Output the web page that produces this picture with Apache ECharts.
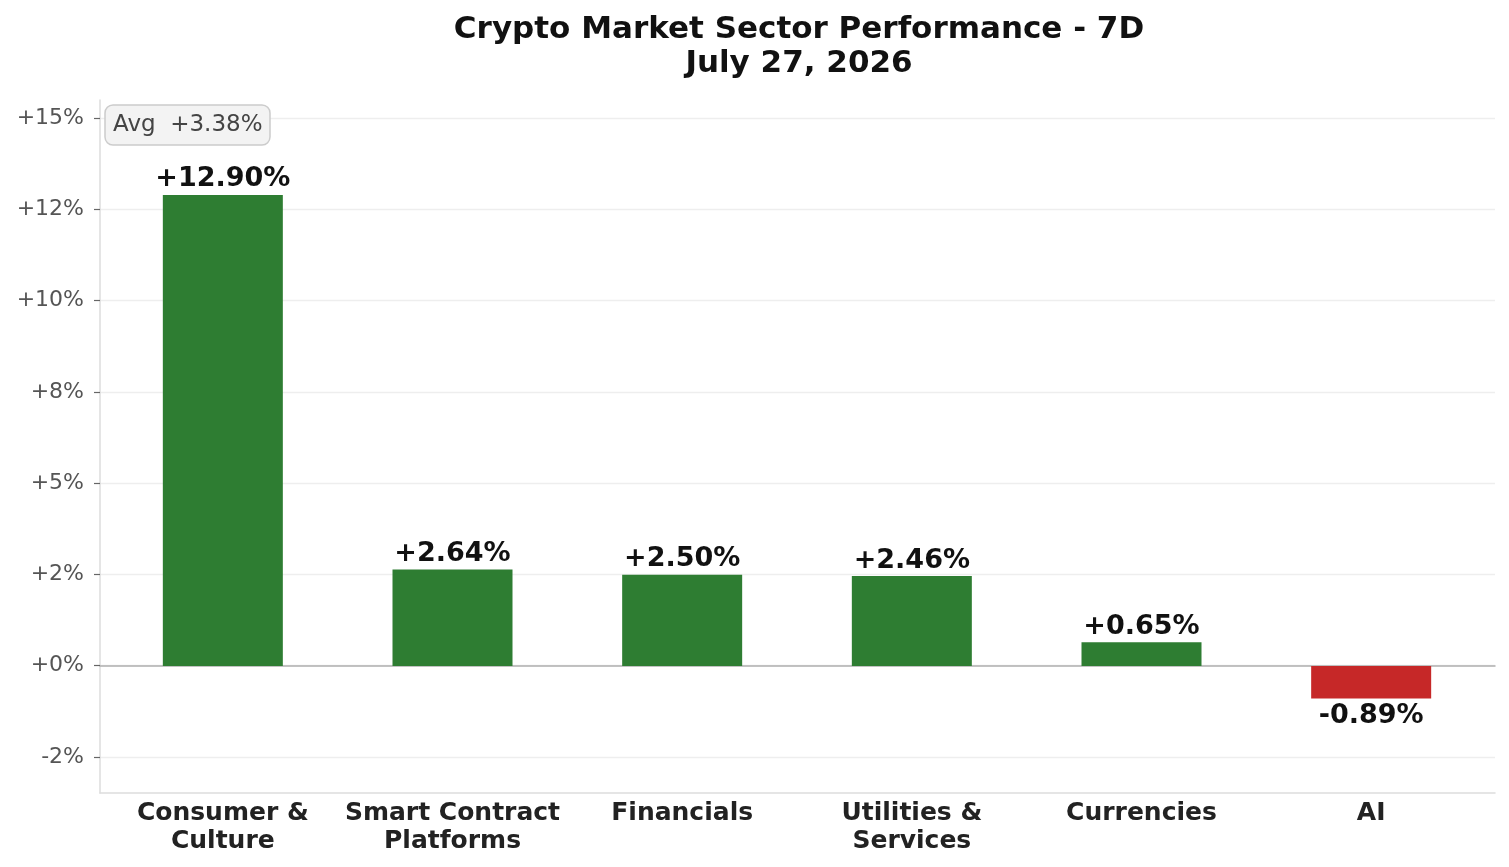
<!DOCTYPE html>
<html lang="en">
<head>
    <meta charset="UTF-8">
    <title>Crypto Market Sector Performance</title>
    <script src="https://cdn.jsdelivr.net/npm/echarts@6/dist/echarts.min.js"></script>
    <style>
        html, body { margin: 0; padding: 0; background: #fff; }
    </style>
</head>
<body>
<div id="main" style="width: 1509px;height:867px;"></div>
<script type="text/javascript">
    // data
    var sectors = ['Consumer &\nCulture', 'Smart Contract\nPlatforms', 'Financials', 'Utilities &\nServices', 'Currencies', 'AI'];
    var changes = [12.90, 2.64, 2.50, 2.46, 0.65, -0.89];
    var yTicks = [-2.5, 0, 2.5, 5, 7.5, 10, 12.5, 15];
    var yTickLabels = ['-2%', '+0%', '+2%', '+5%', '+8%', '+10%', '+12%', '+15%'];

    var UP = '#2e7d32', DOWN = '#c62828';
    var FONT = 'DejaVu Sans';

    var avg = changes.reduce(function (a, b) { return a + b; }, 0) / changes.length;
    function fmt(v) { return (v >= 0 ? '+' : '') + v.toFixed(2) + '%'; }

    var barData = changes.map(function (v) {
        return {
            value: v,
            itemStyle: { color: v >= 0 ? UP : DOWN },
            label: { position: v >= 0 ? 'top' : 'bottom', distance: v >= 0 ? 2 : 4 }
        };
    });

    var myChart = echarts.init(document.getElementById('main'));

    var option = {
        animation: false,
        title: [{
            text: 'Crypto Market Sector Performance - 7D\nJuly 27, 2026',
            left: 794,
            textAlign: 'center',
            top: 8,
            textStyle: { fontFamily: FONT, fontSize: 31, fontWeight: 'bold', color: '#111', lineHeight: 34 }
        }, {
            text: 'Avg  ' + fmt(avg),
            left: 105,
            top: 105,
            padding: [9, 8, 8, 8],
            backgroundColor: '#f3f3f3',
            borderColor: '#cccccc',
            borderWidth: 1.5,
            borderRadius: 8,
            textStyle: { fontFamily: FONT, fontSize: 23, fontWeight: 'normal', color: '#444' }
        }],
        grid: [
            // 0: gridlines, tick labels, zero line
            { left: 100, right: 14, top: 118, bottom: 110 },
            // 1: spines
            { left: 100, right: 14, top: 100, bottom: 74 },
            // 2: bars
            { left: 108, right: 23, top: 100, bottom: 74 }
        ],
        xAxis: [{
            gridIndex: 0, type: 'value', min: 0, max: 1,
            axisLine: { show: true, onZero: true, lineStyle: { color: '#b0b0b0', width: 1.5 } },
            axisTick: { show: false }, axisLabel: { show: false }, splitLine: { show: false }
        }, {
            gridIndex: 1, type: 'value', min: 0, max: 1,
            axisLine: { show: true, onZero: false, lineStyle: { color: '#dddddd', width: 1.5 } },
            axisTick: { show: false }, axisLabel: { show: false }, splitLine: { show: false }
        }, {
            gridIndex: 2, type: 'category', data: sectors,
            axisLine: { show: false }, axisTick: { show: false },
            axisLabel: {
                interval: 0, margin: 6,
                fontFamily: FONT, fontSize: 25, fontWeight: 'bold', color: '#222', lineHeight: 28
            }
        }],
        yAxis: [{
            gridIndex: 0, type: 'value', min: yTicks[0], max: yTicks[yTicks.length - 1], interval: 2.5,
            axisLine: { show: false },
            axisTick: { show: true, length: 6, lineStyle: { color: '#666', width: 1.2 } },
            axisLabel: {
                margin: 16, fontFamily: FONT, fontSize: 22, color: '#555',
                formatter: function (v) {
                    var i = yTicks.indexOf(v);
                    return i >= 0 ? yTickLabels[i] : '';
                }
            },
            splitLine: { show: true, lineStyle: { color: '#eeeeee', width: 1.3 } }
        }, {
            gridIndex: 1, type: 'value', min: -3.48, max: 15.5,
            axisLine: { show: true, lineStyle: { color: '#dddddd', width: 1.5 } },
            axisTick: { show: false }, axisLabel: { show: false }, splitLine: { show: false }
        }, {
            gridIndex: 2, type: 'value', min: -3.48, max: 15.5, show: false,
            splitLine: { show: false }
        }],
        series: [{
            type: 'bar',
            xAxisIndex: 2,
            yAxisIndex: 2,
            barWidth: 120,
            z: 3,
            data: barData,
            label: {
                show: true,
                fontFamily: FONT, fontSize: 27, fontWeight: 'bold', color: '#111',
                formatter: function (p) { return fmt(p.value); }
            }
        }]
    };

    myChart.setOption(option);
</script>
</body>
</html>
